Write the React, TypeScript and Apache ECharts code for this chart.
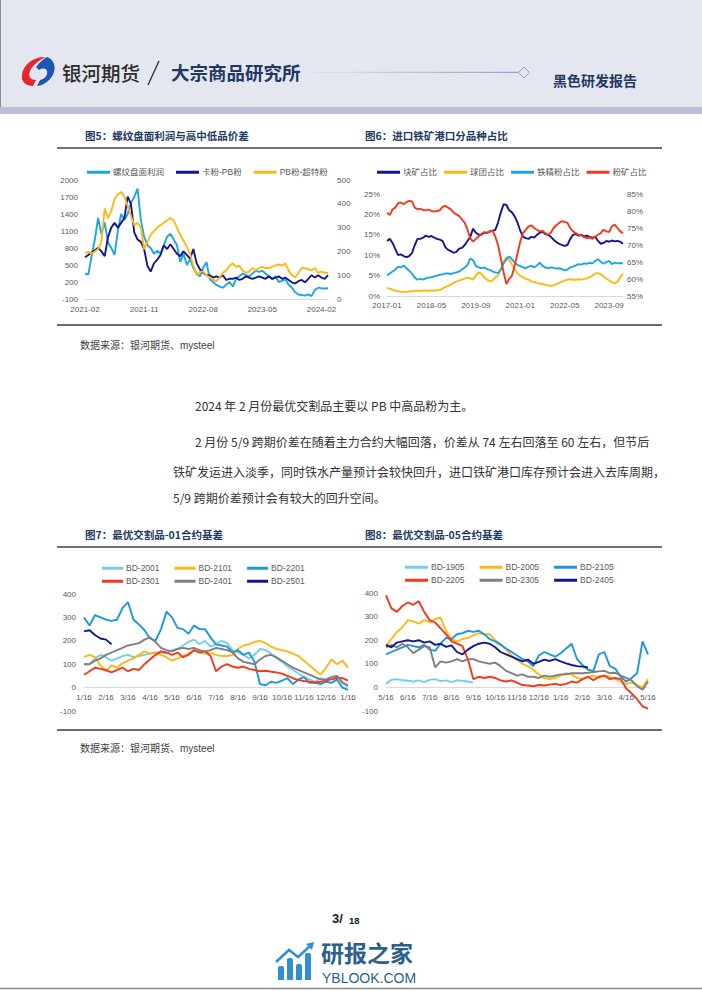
import React, { useEffect, useRef } from "react";
import * as echarts from "echarts";

// ---------- Chart 5: 螺纹盘面利润与高中低品价差 (half-month points from 2021-02) ----------
const c5Profit = [350,330,650,950,1330,1050,1250,900,800,680,
  1100,1400,1300,1400,1600,1700,1850,1300,1000,850,
  800,700,750,700,850,1000,1050,950,850,550,
  700,500,600,450,350,300,450,550,250,200,
  150,120,100,150,200,120,250,300,350,320,
  300,350,400,380,400,350,300,250,300,200,
  220,250,150,100,20,-20,-30,-40,-20,-50,
  60,100,90,85,90];
const c5KaPB = [175,185,195,205,215,200,180,260,300,320,
  300,320,340,430,400,280,250,240,210,140,
  115,150,165,185,225,210,230,210,190,180,
  200,185,170,210,150,125,110,100,100,90,
  95,90,100,80,85,85,90,80,85,95,
  90,85,90,95,90,85,95,85,90,95,
  85,90,80,70,65,75,80,70,85,100,
  90,100,90,85,100];
const c5PBChao = [190,200,190,200,210,240,380,340,370,420,
  440,450,430,390,350,310,320,300,210,240,
  270,285,300,310,320,330,340,330,300,270,
  245,220,190,140,100,115,115,100,90,80,
  75,90,110,120,140,150,135,140,120,110,
  115,130,120,130,135,130,130,135,140,145,
  140,150,120,100,90,110,130,130,125,120,
  130,110,115,110,110];
const c5LeftTicks = [-100, 200, 500, 800, 1100, 1400, 1700, 2000];

// ---------- Chart 6: 进口铁矿港口分品种占比 (monthly from 2017-01, %) ----------
const c6Lump = [13.5,14,13,11.5,10,10.2,9.8,9.5,9.8,10.5,
  12.5,14,14,14.3,14.8,14.5,14.7,14.3,14,13.8,
  13.5,12,11.3,11,10.6,10.8,11.6,11.8,12.5,13.5,
  14.5,16.5,15.5,15,15,15.5,15.5,15.8,16,16.2,
  18,20.5,22.5,22.3,21,20.5,19.5,18,16,14.5,
  14.2,14,14.5,14.3,15,15.5,15.8,15.2,15,14.5,
  13.8,13.2,12.8,12.5,12.3,12.5,14,15,15.2,14.8,
  15,14.6,14.8,14.5,14.3,14.5,13.5,12.8,13,13.5,
  13.3,13.6,13.4,13.5,13.3,12.8];
const c6Pellet = [2.0,1.8,1.5,1.3,1.2,1.0,1.0,1.0,1.1,1.2,
  1.3,1.3,1.2,1.4,1.3,1.3,1.4,1.3,1.4,1.5,
  1.8,2.2,2.5,2.8,3.2,3.5,3.8,4.0,4.3,4.5,
  4.3,4.0,5.0,5.8,5.5,4.6,4.0,3.6,3.8,4.5,
  5.0,6.5,8.5,9.5,8.8,7.8,6.5,5.6,5.0,4.6,
  4.2,4.0,3.6,3.4,3.2,3.0,3.0,2.8,2.6,2.5,
  2.6,2.9,3.2,3.5,3.8,4.0,4.1,4.0,4.0,4.1,
  4.0,4.2,4.3,4.6,5.0,5.5,5.6,5.3,4.8,4.3,
  3.8,3.4,3.1,3.5,4.5,5.5];
const c6Concentrate = [5.0,5.5,6.0,6.5,7.2,7.0,7.5,6.8,6.2,5.5,
  4.5,4.0,4.2,4.0,4.3,4.5,4.6,4.8,5.0,5.2,
  5.3,5.5,5.5,5.4,5.6,5.8,6.0,6.5,7.0,7.6,
  9.2,8.8,7.4,7.0,6.8,7.0,6.6,6.4,6.0,5.8,
  5.6,6.5,8.0,9.0,9.7,9.0,8.2,7.6,7.3,7.0,
  6.8,7.2,7.4,7.0,7.5,8.2,7.4,7.0,6.8,7.0,
  6.9,6.7,6.8,6.6,6.3,6.5,7.0,7.2,7.5,7.8,
  7.7,8.0,7.9,8.1,8.0,8.6,9.0,8.4,7.9,8.3,
  8.6,7.8,8.2,8.0,8.1,8.0];
const c6Fines = [79.5,78.8,80.5,81.0,82.3,82.5,82.0,82.6,83.0,82.8,
  81.0,80.5,80.6,80.3,80.2,80.4,80.0,79.8,80.0,80.2,
  81.2,81.5,81.0,80.5,79.5,79.0,78.5,77.5,76.5,74.5,
  72.0,71.0,71.8,72.5,73.2,73.8,73.5,74.0,74.2,72.5,
  70.0,66.0,62.0,58.5,60.0,61.0,64.0,67.5,71.0,73.5,
  74.5,75.5,75.8,75.0,74.5,74.0,74.2,73.5,73.0,73.6,
  75.0,75.8,76.5,77.0,76.8,76.5,75.0,74.0,73.5,73.0,
  72.8,72.3,72.0,72.2,71.8,72.5,73.0,73.5,74.5,74.0,
  73.8,75.5,76.0,75.0,74.0,73.5];

// ---------- Chart 7: 最优交割品-01合约基差 (quarter-month points from 1/16) ----------
const N = null;
const c7BD2001 = [100,100,125,140,130,115,125,135,140,130,135,140,145,150,150,145,160,165,180,195,205,185,200,175,185,200,190,160,150,140,125,140,165,160,145,125,110,90,75,60,45,35,25,40,30,45,50,25,5];
const c7BD2101 = [130,140,130,95,70,95,85,105,115,125,140,155,145,150,140,130,115,125,135,145,160,150,145,150,140,135,135,140,165,180,185,195,200,190,175,165,160,155,145,135,115,95,75,55,85,120,100,115,85];
const c7BD2201 = [300,265,310,300,290,285,290,340,365,290,270,245,210,200,250,325,300,255,250,230,265,250,250,215,185,180,175,150,160,140,150,110,15,10,25,20,30,40,15,35,45,20,20,15,25,20,35,0,-10];
const c7BD2301 = [55,70,85,80,75,65,75,85,70,80,75,100,120,140,155,150,140,150,130,140,160,150,155,135,70,90,100,90,85,90,80,75,70,72,68,65,60,50,40,32,28,25,22,25,30,35,42,40,30];
const c7BD2401 = [100,100,115,125,140,150,160,170,180,185,190,205,215,195,170,160,155,165,170,165,170,160,155,160,170,165,160,150,125,110,105,100,120,135,140,130,115,100,85,75,65,55,45,35,35,45,50,20,10];
const c7BD2501 = [240,245,225,210,205,185,N,N,N,N,N,N,N,N,N,N,N,N,N,N,N,N,N,N,N,N,N,N,N,N,N,N,N,N,N,N,N,N,N,N,N,N,N,N,N,N,N,N,N];

// ---------- Chart 8: 最优交割品-05合约基差 (quarter-month points from 5/16) ----------
const c8BD1905 = [15,32,35,30,28,25,30,22,32,35,27,30,22,30,28,25,20,N,N,N,N,N,N,N,N,N,N,N,N,N,N,N,N,N,N,N,N,N,N,N,N,N,N,N,N,N,N,N,N];
const c8BD2005 = [175,205,235,255,285,280,270,285,275,290,295,240,205,195,205,210,220,230,225,225,200,185,160,135,115,100,90,75,55,40,35,40,50,60,55,40,35,45,50,40,50,45,35,25,15,20,10,0,35];
const c8BD2105 = [140,150,160,170,180,175,170,180,160,155,185,210,205,225,230,240,235,240,225,205,195,180,165,150,135,120,110,90,135,150,140,130,145,165,185,120,95,75,70,140,150,90,80,45,25,40,60,195,140];
const c8BD2205 = [390,335,320,345,360,350,365,320,285,275,250,225,195,185,175,120,35,45,40,45,40,30,25,30,20,10,8,5,10,8,12,15,10,15,25,20,35,45,30,45,50,35,40,35,-5,-25,-50,-80,-90];
const c8BD2305 = [170,180,170,185,170,145,160,175,170,85,110,105,110,120,110,120,120,110,105,100,105,90,70,60,50,55,45,45,40,50,45,50,55,55,60,60,60,62,65,68,70,60,62,50,40,30,5,-10,25];
const c8BD2405 = [180,170,190,195,200,195,200,190,195,180,185,172,178,150,140,160,175,185,190,185,170,150,140,130,120,110,118,100,108,118,112,120,110,102,95,90,88,85,N,N,N,N,N,N,N,N,N,N,N];

// ---------- category / tick labels ----------
function monthLabel(y0: number, m0: number, add: number) {
  const t = y0 * 12 + (m0 - 1) + add;
  const y = Math.floor(t / 12);
  const m = (t % 12) + 1;
  return `${y}-${m < 10 ? "0" + m : m}`;
}
const c5Cats = c5Profit.map((_, i) => monthLabel(2021, 2, Math.floor(i / 2)));
const c6Cats = c6Lump.map((_, i) => monthLabel(2017, 1, i));
function quarterMonthCats(startMonth: number) {
  const out: string[] = [];
  for (let k = 0; k < 12; k++) {
    const mo = ((startMonth - 1 + k) % 12) + 1;
    const nx = (mo % 12) + 1;
    out.push(`${mo}/16`, `${mo}/23`, `${nx}/1`, `${nx}/8`);
  }
  out.push(`${startMonth}/16`);
  return out;
}
const c7Cats = quarterMonthCats(1);
const c8Cats = quarterMonthCats(5);

// ---------- styles ----------
const FONT = "'Liberation Sans', 'Noto Sans CJK SC', sans-serif";
const CJK = "'Noto Sans CJK SC', sans-serif";
const NAVY_T = "#1f3864";
const LBL = "#595959";

const COL = {
  cyan: "#1ea6e3",
  navy: "#16168c",
  gold: "#fdb913",
  red: "#f5371c",
  gray: "#7f7f7f",
  sky: "#74cdf3",
  blue: "#1b98dc",
};

let shapesRegistered = false;
function registerShapes() {
  if (shapesRegistered) return;
  shapesRegistered = true;
  echarts.graphic.registerShape(
    "ghLogoRed",
    echarts.graphic.extendPath(
      "M24 2 C12 2 2 10 1 20 C0 27 5 31 12 31 L15 25 C9 25 7 21 9 16 C11 11 16 7 24 2 Z",
      {}
    )
  );
  echarts.graphic.registerShape(
    "ghLogoBlue",
    echarts.graphic.extendPath(
      "M26 2 C32 4 35 10 33 17 C31 24 24 30 16 31 L19 25 C24 24 27 20 26 16 C25 13 21 13 18 15 L15 12 C18 8 22 4 26 2 Z",
      {}
    )
  );
}

const txt = (text: string, x: number, y: number, size: number, fill: string, weight: any = "normal", family = CJK, align = "left") => ({
  type: "text",
  x,
  y,
  silent: true,
  style: { text, fontSize: size, fill, fontWeight: weight, fontFamily: family, align, verticalAlign: "middle" },
});
const hline = (x1: number, x2: number, y: number, stroke: string, w: number) => ({
  type: "line",
  silent: true,
  shape: { x1, y1: y, x2, y2: y },
  style: { stroke, lineWidth: w },
});

function lineSeries(name: string, data: any[], color: string, xi: number, yi: number) {
  return {
    type: "line",
    name,
    data,
    xAxisIndex: xi,
    yAxisIndex: yi,
    showSymbol: false,
    symbol: "none",
    connectNulls: false,
    lineStyle: { width: 1.9, color },
    itemStyle: { color },
    emphasis: { disabled: true },
  };
}

const axisLabelBase = { fontSize: 8, color: LBL, fontFamily: FONT };

function catAxis(grid: number, data: string[], interval: number, margin: number, offset: number) {
  return {
    type: "category",
    gridIndex: grid,
    data,
    boundaryGap: false,
    offset,
    axisLine: { show: true, onZero: false, lineStyle: { color: "#d9d9d9", width: 1 } },
    axisTick: { show: false },
    axisLabel: { ...axisLabelBase, interval, margin },
    splitLine: { show: false },
  };
}
function valAxis(grid: number, min: number, max: number, interval: number, margin: number, extra: any = {}) {
  return {
    type: "value",
    gridIndex: grid,
    min,
    max,
    interval,
    axisLine: { show: false },
    axisTick: { show: false },
    splitLine: { show: false },
    ...extra,
    axisLabel: { ...axisLabelBase, margin, formatter: (v: number) => String(v), ...(extra.axisLabel || {}) },
  };
}

function legend(names: string[], left: number, top: number, itemWidth: number, itemGap: number) {
  return {
    data: names,
    left,
    top,
    orient: "horizontal",
    icon: "rect",
    itemWidth,
    itemHeight: 3,
    itemGap,
    padding: 0,
    selectedMode: false,
    textStyle: { fontSize: 8.5, color: LBL, fontFamily: FONT, padding: [0, 0, 0, -2] },
  };
}

function buildOption() {
  const graphic: any[] = [
    // header
    { type: "rect", silent: true, shape: { x: 0, y: 0, width: 702, height: 107 }, style: { fill: "#e4e7ef" } },
    { type: "rect", silent: true, shape: { x: 0, y: 107, width: 702, height: 7 }, style: { fill: "#b9c0da" } },
    { type: "line", silent: true, shape: { x1: 0.5, y1: 0, x2: 0.5, y2: 107 }, style: { stroke: "#8c8c8c", lineWidth: 1 } },
    { type: "ghLogoRed", x: 21, y: 55, silent: true, style: { fill: "#e5262d" } },
    { type: "ghLogoBlue", x: 21, y: 55, silent: true, style: { fill: "#1d56b3" } },
    txt("银河期货", 62, 72, 19.5, "#2e2e2e", 500),
    { type: "line", silent: true, shape: { x1: 159, y1: 61, x2: 148, y2: 85 }, style: { stroke: "#333", lineWidth: 1.4 } },
    txt("大宗商品研究所", 171, 72, 18.5, NAVY_T, "bold"),
    {
      type: "rect",
      silent: true,
      shape: { x: 300, y: 71.8, width: 219, height: 1.2 },
      style: {
        fill: new echarts.graphic.LinearGradient(0, 0, 1, 0, [
          { offset: 0, color: "rgba(150,160,195,0)" },
          { offset: 1, color: "#96a0c3" },
        ]),
      },
    },
    {
      type: "polygon",
      silent: true,
      shape: { points: [[524, 67], [529.5, 72.5], [524, 78], [518.5, 72.5]] },
      style: { fill: "#e4e7ef", stroke: "#96a0c3", lineWidth: 1 },
    },
    txt("黑色研发报告", 553, 80, 14, NAVY_T, "bold"),

    // figure titles and rules (top pair)
    txt("图5：螺纹盘面利润与高中低品价差", 85, 135, 10.5, NAVY_T, "bold"),
    txt("图6：进口铁矿港口分品种占比", 365, 135, 10.5, NAVY_T, "bold"),
    hline(57, 662, 148, "#404040", 1.5),
    hline(57, 662, 325, "#6b6b6b", 1.8),
    txt("数据来源：银河期货、mysteel", 80, 345, 10, "#404040", "normal", FONT),

    // body text
    txt("2024 年 2 月份最优交割品主要以 PB 中高品粉为主。", 195, 405, 12, "#333333"),
    txt("2 月份 5/9 跨期价差在随着主力合约大幅回落，价差从 74 左右回落至 60 左右，但节后", 195, 441, 12, "#333333"),
    txt("铁矿发运进入淡季，同时铁水产量预计会较快回升，进口铁矿港口库存预计会进入去库周期，", 173, 471, 12, "#333333"),
    txt("5/9 跨期价差预计会有较大的回升空间。", 173, 497, 12, "#333333"),

    // figure titles and rules (bottom pair)
    txt("图7：最优交割品-01合约基差", 85, 534, 10.5, NAVY_T, "bold"),
    txt("图8：最优交割品-05合约基差", 365, 534, 10.5, NAVY_T, "bold"),
    hline(57, 662, 547, "#404040", 1.5),
    hline(57, 662, 730, "#6b6b6b", 1.8),
    txt("数据来源：银河期货、mysteel", 80, 748, 10, "#404040", "normal", FONT),

    // footer
    txt("3/", 332, 918, 13, "#1a1a1a", "bold", FONT),
    txt("18", 349, 920, 9.5, "#1a1a1a", "bold", FONT),
    { type: "rect", silent: true, shape: { x: 278, y: 966, width: 6, height: 14, r: [2, 2, 0, 0] }, style: { fill: "#2f8fd5" } },
    { type: "rect", silent: true, shape: { x: 287, y: 958, width: 6, height: 22, r: [2, 2, 0, 0] }, style: { fill: "#2f8fd5" } },
    { type: "rect", silent: true, shape: { x: 296, y: 964, width: 6, height: 16, r: [2, 2, 0, 0] }, style: { fill: "#2f8fd5" } },
    { type: "rect", silent: true, shape: { x: 305, y: 953, width: 6, height: 27, r: [2, 2, 0, 0] }, style: { fill: "#2f8fd5" } },
    { type: "polyline", silent: true, shape: { points: [[276, 962], [289, 950], [298, 957], [310, 946]] }, style: { stroke: "#2f8fd5", lineWidth: 2.5, fill: null } },
    { type: "polygon", silent: true, shape: { points: [[314, 942], [306, 944], [312, 950]] }, style: { fill: "#2f8fd5" } },
    txt("研报之家", 321, 952, 23, "#2c5f8d", "bold"),
    txt("YBLOOK.COM", 322, 977.5, 14, "#2c5f8d", "normal", FONT),
    hline(0, 702, 988.5, "#8a8a8a", 1.5),
  ];

  return {
    animation: false,
    backgroundColor: "#ffffff",
    textStyle: { fontFamily: FONT },
    graphic,
    legend: [
      legend(["螺纹盘面利润", "卡粉-PB粉", "PB粉-超特粉"], 87, 168, 23, 12),
      legend(["块矿占比", "球团占比", "铁精粉占比", "粉矿占比"], 377, 168, 23, 7),
      legend(["BD-2001", "BD-2101", "BD-2201"], 102, 564, 21, 15),
      legend(["BD-2301", "BD-2401", "BD-2501"], 102, 577, 21, 15),
      legend(["BD-1905", "BD-2005", "BD-2105"], 405, 563, 23, 15),
      legend(["BD-2205", "BD-2305", "BD-2405"], 405, 576, 23, 15),
    ],
    grid: [
      { left: 85, top: 180, width: 243, height: 119 },
      { left: 387, top: 194, width: 236, height: 102 },
      { left: 84, top: 594, width: 264, height: 117 },
      { left: 386, top: 593, width: 262, height: 118 },
    ],
    xAxis: [
      catAxis(0, c5Cats, 17, 6, 0),
      catAxis(1, c6Cats, 15, 5, 0),
      catAxis(2, c7Cats, 3, 6, -23.4),
      catAxis(3, c8Cats, 3, 6, -23.6),
    ],
    yAxis: [
      valAxis(0, -100, 2000, 300, 7, { axisLabel: { customValues: c5LeftTicks } }),
      valAxis(0, 0, 500, 100, 9, { position: "right" }),
      valAxis(1, 0, 25, 5, 7, { axisLabel: { formatter: "{value}%" } }),
      valAxis(1, 55, 85, 5, 4, { position: "right", axisLabel: { formatter: "{value}%" } }),
      valAxis(2, -100, 400, 100, 8),
      valAxis(3, -100, 400, 100, 8),
    ],
    series: [
      lineSeries("螺纹盘面利润", c5Profit, COL.cyan, 0, 0),
      lineSeries("卡粉-PB粉", c5KaPB, COL.navy, 0, 1),
      lineSeries("PB粉-超特粉", c5PBChao, COL.gold, 0, 1),

      lineSeries("块矿占比", c6Lump, COL.navy, 1, 2),
      lineSeries("球团占比", c6Pellet, COL.gold, 1, 2),
      lineSeries("铁精粉占比", c6Concentrate, COL.cyan, 1, 2),
      lineSeries("粉矿占比", c6Fines, COL.red, 1, 3),

      lineSeries("BD-2001", c7BD2001, COL.sky, 2, 4),
      lineSeries("BD-2101", c7BD2101, COL.gold, 2, 4),
      lineSeries("BD-2201", c7BD2201, COL.blue, 2, 4),
      lineSeries("BD-2301", c7BD2301, COL.red, 2, 4),
      lineSeries("BD-2401", c7BD2401, COL.gray, 2, 4),
      lineSeries("BD-2501", c7BD2501, COL.navy, 2, 4),

      lineSeries("BD-1905", c8BD1905, COL.sky, 3, 5),
      lineSeries("BD-2005", c8BD2005, COL.gold, 3, 5),
      lineSeries("BD-2105", c8BD2105, COL.blue, 3, 5),
      lineSeries("BD-2205", c8BD2205, COL.red, 3, 5),
      lineSeries("BD-2305", c8BD2305, COL.gray, 3, 5),
      lineSeries("BD-2405", c8BD2405, COL.navy, 3, 5),
    ],
  };
}

export default function App() {
  const ref = useRef<HTMLDivElement>(null);
  useEffect(() => {
    if (!ref.current) return;
    registerShapes();
    const chart = echarts.init(ref.current, undefined, { renderer: "svg", width: 702, height: 991 });
    chart.setOption(buildOption() as any);
    return () => chart.dispose();
  }, []);
  return (
    <div
      ref={ref}
      style={{ position: "absolute", left: 0, top: 0, width: 702, height: 991, background: "#ffffff" }}
    />
  );
}
